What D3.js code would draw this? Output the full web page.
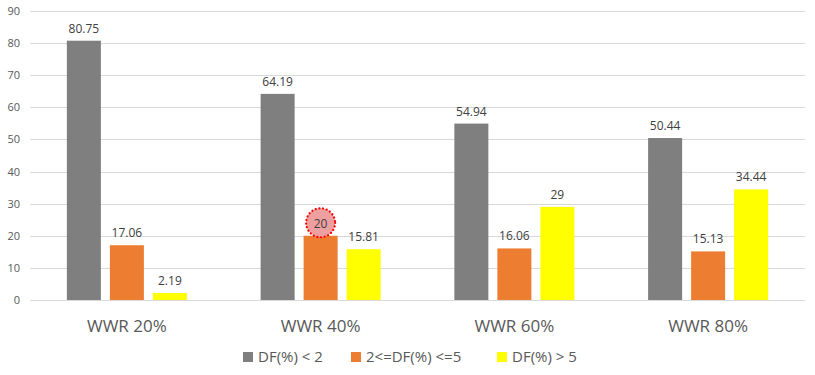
<!DOCTYPE html>
<html><head><meta charset="utf-8">
<script src="https://cdn.jsdelivr.net/npm/d3@7"></script>
<style>body{margin:0;background:#fff}svg{display:block}</style>
</head><body><svg id="c" width="815" height="375"></svg>
<script>
const categories = ["WWR 20%", "WWR 40%", "WWR 60%", "WWR 80%"];
const seriesNames = ["DF(%) < 2", "2<=DF(%) <=5", "DF(%) > 5"];
const seriesColors = ["#7f7f7f", "#ed7d31", "#ffff00"];
const dfLow = [80.75, 64.19, 54.94, 50.44];
const dfMid = [17.06, 20, 16.06, 15.13];
const dfHigh = [2.19, 15.81, 29, 34.44];
const yTicks = [0, 10, 20, 30, 40, 50, 60, 70, 80, 90];
const highlighted = {series: 1, category: 1};

(function () {
const seriesValues = [dfLow, dfMid, dfHigh];
const svg = d3.select("#c");
const font = "'Open Sans', 'Liberation Sans', sans-serif";
const mLeft = 30, mRight = 805, mTop = 11, mBottom = 300;

const x = d3.scaleBand().domain(categories).range([mLeft, mRight]).paddingInner(0).paddingOuter(0);
const xs = d3.scaleBand().domain(d3.range(3)).range([0, x.bandwidth()]).paddingInner(0.209).paddingOuter(0.857);
const y = d3.scaleLinear().domain([0, 90]).range([mBottom, mTop]);

svg.append("g").selectAll("line").data(yTicks).join("line")
  .attr("x1", mLeft).attr("x2", mRight)
  .attr("y1", d => Math.round(y(d)) + 0.5).attr("y2", d => Math.round(y(d)) + 0.5)
  .attr("stroke", "#d9d9d9").attr("stroke-width", 1);

const yAxis = svg.append("g").attr("transform", `translate(${mLeft - 10},0)`)
  .call(d3.axisLeft(y).tickValues(yTicks).tickSize(0).tickPadding(0));
yAxis.select(".domain").remove();
yAxis.selectAll("text").attr("font-family", font).attr("font-size", 11).attr("fill", "#595959");

const rows = [];
categories.forEach((c, ci) => seriesValues.forEach((s, si) => rows.push({c, ci, si, v: s[ci]})));
svg.append("g").selectAll("rect").data(rows).join("rect")
  .attr("x", d => x(d.c) + xs(d.si))
  .attr("width", xs.bandwidth())
  .attr("y", d => y(d.v))
  .attr("height", d => y(0) - y(d.v))
  .attr("fill", d => seriesColors[d.si]);

const h = rows.find(d => d.si === highlighted.series && d.ci === highlighted.category);
svg.append("circle")
  .attr("cx", x(h.c) + xs(h.si) + xs.bandwidth() / 2)
  .attr("cy", y(h.v) - 13)
  .attr("r", 14.5)
  .attr("fill", "#ee9f9f")
  .attr("stroke", "#ff0000").attr("stroke-width", 2.2)
  .attr("stroke-dasharray", "0.1 3.6").attr("stroke-linecap", "round");

svg.append("g").selectAll("text").data(rows).join("text")
  .attr("x", d => x(d.c) + xs(d.si) + xs.bandwidth() / 2)
  .attr("y", d => y(d.v) - 8)
  .attr("text-anchor", "middle")
  .attr("font-family", font).attr("font-size", 12).attr("fill", "#404040")
  .text(d => d.v);

svg.append("g").selectAll("text").data(categories).join("text")
  .attr("x", d => x(d) + x.bandwidth() / 2)
  .attr("y", 332)
  .attr("text-anchor", "middle")
  .attr("font-family", font).attr("font-size", 17).attr("fill", "#595959")
  .text(d => d);

const legendX = [243, 351, 497];
const lg = svg.append("g").selectAll("g").data(seriesNames).join("g")
  .attr("transform", (d, i) => `translate(${legendX[i]},352)`);
lg.append("rect").attr("width", 10).attr("height", 10).attr("fill", (d, i) => seriesColors[i]);
lg.append("text").attr("x", 15).attr("y", 9.5).attr("font-family", font).attr("font-size", 15)
  .attr("fill", "#595959").text(d => d);
})();
</script></body></html>
